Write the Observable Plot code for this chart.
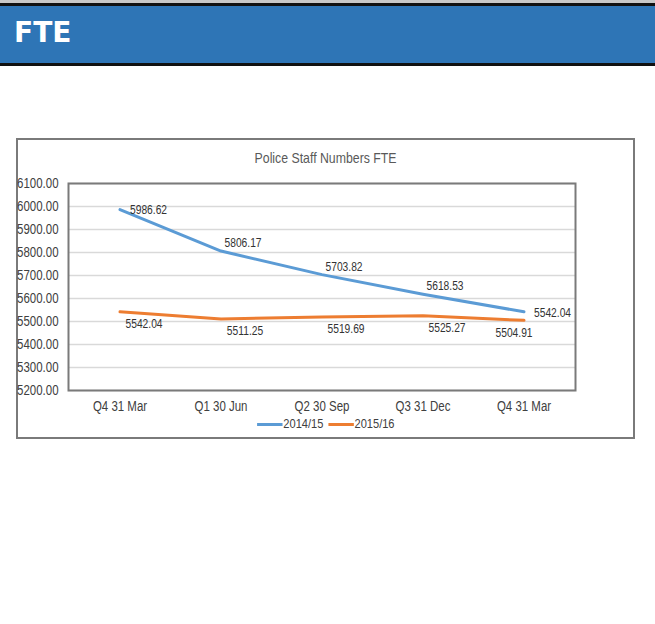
<!DOCTYPE html>
<html>
<head>
<meta charset="utf-8">
<script src="https://cdn.jsdelivr.net/npm/d3@7"></script>
<script src="https://cdn.jsdelivr.net/npm/@observablehq/plot@0.6"></script>
<style>
  html, body { margin: 0; padding: 0; background: #fff; width: 655px; height: 624px; overflow: hidden; }
  body { position: relative; font-family: "Liberation Sans", Arial, sans-serif; }
  #topline { position: absolute; left: 0; top: 0; width: 655px; height: 3px; background: #c8c8c8; }
  #header { position: absolute; left: 0; top: 3px; width: 655px; height: 57px; background: #2E75B6;
            border-top: 3px solid #111; border-bottom: 3px solid #111; }
  #header span { position: absolute; left: 14px; top: 11px; color: #fff; font-family: "DejaVu Sans", Verdana, sans-serif;
                 font-weight: 700; font-size: 28px; line-height: 32px; }
  #box { position: absolute; left: 16px; top: 138px; width: 615px; height: 297px; border: 2px solid #7a7a7a; }
  #title { position: absolute; left: 16px; top: 149px; width: 619px; text-align: center; font-size: 15px; color: #595959; }
  #title span, #legend .inner { display: inline-block; transform: scaleX(0.82); transform-origin: center; white-space: nowrap; }
  #chart { position: absolute; left: 17px; top: 170px; }
  #legend { position: absolute; left: 16px; top: 416px; width: 619px; text-align: center; font-size: 13.5px; color: #404040; }
  .sw { display: inline-block; width: 31px; height: 3px; vertical-align: middle; margin-right: 1px; }
  .item { margin: 0 3px; }
</style>
</head>
<body>
<div id="topline"></div>
<div id="header"><span>FTE</span></div>
<div id="box"></div>
<div id="title"><span>Police Staff Numbers FTE</span></div>
<div id="chart"></div>
<div id="legend"><span class="inner"></span></div>
<script>
const categories = ["Q4 31 Mar", "Q1 30 Jun", "Q2 30 Sep", "Q3 31 Dec", "Q4 31 Mar"];
const seriesNames = ["2014/15", "2015/16"];
const values2014 = [5986.62, 5806.17, 5703.82, 5618.53, 5542.04];
const values2015 = [5542.04, 5511.25, 5519.69, 5525.27, 5504.91];
const yTicks = [5200, 5300, 5400, 5500, 5600, 5700, 5800, 5900, 6000, 6100];
const colors = ["#5B9BD5", "#ED7D31"];

const data = [];
[values2014, values2015].forEach((vals, s) => {
  vals.forEach((v, i) => data.push({series: seriesNames[s], i, cat: categories[i], value: v}));
});
const blue = data.filter(d => d.series === seriesNames[0]);
const orange = data.filter(d => d.series === seriesNames[1]);
const last = categories.length - 1;
const fmt = d3.format(".2f");

const chart = Plot.plot({
  width: 617,
  height: 250,
  marginTop: 13,
  marginBottom: 30,
  marginLeft: 51,
  marginRight: 59,
  style: {fontFamily: "'Liberation Sans', Arial, sans-serif", fontSize: "14px", color: "#404040", background: "transparent", overflow: "visible"},
  x: {type: "band", domain: d3.range(categories.length), tickFormat: i => categories[i], padding: 0, label: null},
  y: {domain: [5200, 6100], ticks: yTicks, tickFormat: d => fmt(d), label: null},
  color: {domain: seriesNames, range: colors},
  marks: [
    Plot.gridY(yTicks, {stroke: "#d9d9d9", strokeOpacity: 1, strokeWidth: 1.5}),
    Plot.axisY({ticks: yTicks, tickSize: 0, tickPadding: 10, tickFormat: d => fmt(d), fill: "#404040", label: null}),
    Plot.axisX({tickSize: 0, tickPadding: 11, tickFormat: i => categories[i], fill: "#404040", label: null}),
    Plot.frame({stroke: "#7a7a7a", strokeWidth: 2}),
    Plot.line(data, {x: "i", y: "value", z: "series", stroke: "series", strokeWidth: 3, curve: "linear"}),
    // 2014/15 labels
    Plot.text(blue.filter(d => d.i === 0), {x: "i", y: "value", text: d => fmt(d.value), textAnchor: "start", dx: 10, dy: 0, fill: "#333", fontSize: 12.5}),
    Plot.text(blue.filter(d => d.i > 0 && d.i < last), {x: "i", y: "value", text: d => fmt(d.value), dx: 22, dy: -8, fill: "#333", fontSize: 12.5}),
    Plot.text(blue.filter(d => d.i === last), {x: "i", y: "value", text: d => fmt(d.value), textAnchor: "start", dx: 10, dy: 1, fill: "#333", fontSize: 12.5}),
    // 2015/16 labels
    Plot.text(orange.filter(d => d.i < last), {x: "i", y: "value", text: d => fmt(d.value), dx: 24, dy: 12, fill: "#333", fontSize: 12.5}),
    Plot.text(orange.filter(d => d.i === last), {x: "i", y: "value", text: d => fmt(d.value), dx: -10, dy: 13, fill: "#333", fontSize: 12.5})
  ]
});
document.getElementById("chart").appendChild(chart);

// Condense text horizontally (Arial Narrow look) around each label's own anchor point
chart.querySelectorAll("text").forEach(t => {
  const bb = t.getBBox();
  const anchor = getComputedStyle(t).textAnchor;
  const ax = anchor === "end" ? bb.x + bb.width : anchor === "middle" ? bb.x + bb.width / 2 : bb.x;
  const tr = t.getAttribute("transform") || "";
  t.setAttribute("transform", `${tr} translate(${ax},0) scale(0.82,1) translate(${-ax},0)`.trim());
});

const legend = document.querySelector("#legend .inner");
seriesNames.forEach((name, k) => {
  const item = document.createElement("span");
  item.className = "item";
  const sw = document.createElement("span");
  sw.className = "sw";
  sw.style.background = colors[k];
  item.appendChild(sw);
  item.appendChild(document.createTextNode(name));
  legend.appendChild(item);
});
</script>
</body>
</html>
